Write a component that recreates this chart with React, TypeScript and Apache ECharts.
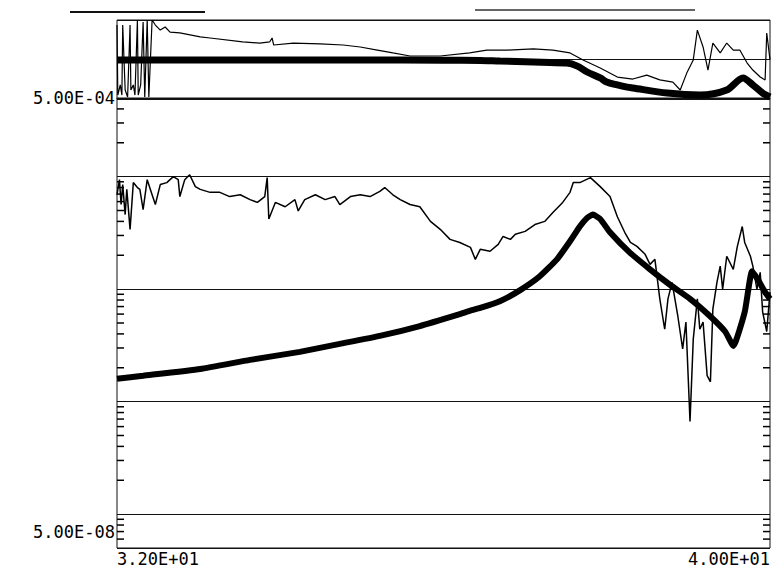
import React, { useEffect, useRef } from "react";
import * as echarts from "echarts";

// x: frequency (Hz), y: amplitude (log) — lower panel
const xTickLabels = ["3.20E+01", "4.00E+01"];
const yTickLabels = ["5.00E-08", "5.00E-04"];

const lowerModel: [number, number][] = [
  [32.0, 1.6e-6], [32.32, 1.7e-6], [33.02, 1.95e-6], [33.63, 2.35e-6], [34.24, 2.77e-6],
  [34.73, 3.26e-6], [35.22, 3.84e-6], [35.71, 4.7e-6], [36.2, 6.0e-6], [36.32, 6.4e-6],
  [36.45, 6.8e-6], [36.69, 7.8e-6], [36.94, 9.8e-6], [37.18, 1.3e-5], [37.39, 1.84e-5],
  [37.55, 2.66e-5], [37.67, 3.6e-5], [37.76, 4.3e-5], [37.83, 4.6e-5], [37.92, 4.2e-5],
  [38.04, 3.2e-5], [38.28, 2.12e-5], [38.53, 1.5e-5], [38.77, 1.1e-5], [39.02, 8.2e-6],
  [39.26, 5.8e-6], [39.45, 4.2e-6], [39.55, 3.13e-6], [39.69, 6.25e-6], [39.78, 1.44e-5],
  [39.85, 1.22e-5], [39.94, 9.4e-6], [40.0, 8.2e-6],
];

const lowerMeasured: [number, number][] = [
  [32.0, 6.9e-5], [32.03, 9.4e-5], [32.05, 5.65e-5], [32.07, 8.5e-5], [32.1, 4.6e-5],
  [32.12, 7.7e-5], [32.16, 3.4e-5], [32.2, 8.85e-5], [32.25, 8.0e-5], [32.28, 7.7e-5],
  [32.32, 5.1e-5], [32.37, 9.4e-5], [32.43, 6.9e-5], [32.47, 5.65e-5], [32.53, 8.5e-5],
  [32.61, 8.85e-5], [32.69, 1.0e-4], [32.75, 9.4e-5], [32.77, 6.65e-5], [32.83, 9.4e-5],
  [32.89, 1.04e-4], [32.96, 8.15e-5], [33.02, 7.7e-5], [33.14, 7.25e-5], [33.26, 7.25e-5],
  [33.38, 6.65e-5], [33.51, 6.9e-5], [33.63, 6.25e-5], [33.72, 5.9e-5], [33.81, 6.65e-5],
  [33.84, 9.8e-5], [33.86, 4.2e-5], [33.94, 5.9e-5], [34.06, 5.4e-5], [34.18, 6.25e-5],
  [34.22, 4.95e-5], [34.3, 6.25e-5], [34.43, 6.9e-5], [34.55, 6.25e-5], [34.67, 6.65e-5],
  [34.73, 5.65e-5], [34.86, 6.65e-5], [34.98, 6.9e-5], [35.1, 6.65e-5], [35.22, 7.4e-5],
  [35.28, 8.0e-5], [35.38, 6.9e-5], [35.47, 6.25e-5], [35.59, 5.65e-5], [35.71, 5.4e-5],
  [35.84, 4.0e-5], [35.96, 3.4e-5], [36.08, 2.77e-5], [36.2, 2.6e-5], [36.33, 2.35e-5],
  [36.39, 1.84e-5], [36.45, 2.26e-5], [36.57, 2.17e-5], [36.67, 2.5e-5], [36.73, 2.94e-5],
  [36.82, 2.77e-5], [36.88, 3.07e-5], [37.0, 3.26e-5], [37.12, 3.75e-5], [37.24, 4.0e-5],
  [37.34, 4.8e-5], [37.46, 5.9e-5], [37.55, 7.25e-5], [37.59, 8.85e-5], [37.67, 8.85e-5],
  [37.8, 9.8e-5], [37.92, 8.15e-5], [38.04, 6.65e-5], [38.13, 4.4e-5], [38.22, 3.2e-5],
  [38.29, 2.6e-5], [38.37, 2.4e-5], [38.47, 2.04e-5], [38.53, 1.66e-5], [38.59, 1.84e-5],
  [38.65, 8.2e-6], [38.71, 4.4e-6], [38.75, 8.2e-6], [38.8, 1.15e-5], [38.87, 5.8e-6],
  [38.93, 2.94e-6], [38.97, 5.1e-6], [39.02, 6.65e-7], [39.06, 3.6e-6], [39.11, 8.2e-6],
  [39.14, 4.4e-6], [39.18, 5.1e-6], [39.23, 1.7e-6], [39.27, 1.5e-6], [39.3, 6.65e-6],
  [39.35, 1.15e-5], [39.39, 1.6e-5], [39.42, 1.0e-5], [39.47, 1.96e-5], [39.55, 1.5e-5],
  [39.6, 2.4e-5], [39.66, 3.6e-5], [39.69, 2.6e-5], [39.76, 1.96e-5], [39.79, 1.6e-5],
  [39.84, 1.0e-5], [39.88, 1.41e-5], [39.91, 6.25e-6], [39.96, 4.2e-6], [40.0, 9.4e-6],
];

// upper panel: phase (degrees)
const upperModel: [number, number][] = [
  [32.0, -2], [33.5, -2], [35.0, -2], [36.0, -3], [36.45, -4], [36.69, -7], [37.1, -11],
  [37.3, -14], [37.51, -16], [37.64, -30], [37.76, -57], [37.92, -84], [38.0, -103],
  [38.13, -116], [38.25, -126], [38.32, -130], [38.74, -153], [39.14, -162], [39.47, -139],
  [39.67, -84], [39.79, -116], [39.91, -153], [40.0, -171],
];

const upperMeasured: [number, number][] = [
  [32.0, 157], [32.01, -162], [32.04, -116], [32.06, -162], [32.07, 157], [32.1, -139],
  [32.13, -171], [32.16, 157], [32.17, -139], [32.2, -116], [32.22, -162], [32.25, 180],
  [32.26, -162], [32.29, -116], [32.32, 171], [32.34, -171], [32.37, 180], [32.39, -171],
  [32.43, 180], [32.47, 157], [32.53, 134], [32.59, 148], [32.65, 125], [32.77, 121],
  [33.02, 103], [33.14, 98], [33.54, 80], [33.75, 75], [33.87, 80], [33.9, 98], [33.92, 66],
  [34.16, 75], [34.49, 71], [34.77, 66], [34.98, 57], [35.19, 43], [35.38, 30], [35.59, 16],
  [35.96, 16], [36.32, 30], [36.53, 43], [36.78, 43], [37.1, 48], [37.34, 43], [37.55, 30],
  [37.71, -2], [37.92, -39], [38.13, -80], [38.32, -89], [38.49, -71], [38.65, -93],
  [38.81, -103], [38.9, -139], [38.98, -62], [39.06, -2], [39.11, 134], [39.18, 57],
  [39.24, -48], [39.3, 75], [39.39, 30], [39.47, 75], [39.55, 43], [39.63, 43], [39.72, -16],
  [39.79, -48], [39.88, -80], [39.94, -93], [39.96, 121], [40.0, -2],
];

const X_MIN = 32;
const X_MAX = 40;
const Y_MIN = 5e-8;
const Y_MAX = 5e-4;

function minorTickValues(): number[] {
  const out: number[] = [];
  for (let e = -8; e <= -4; e++) {
    for (let m = 2; m <= 9; m++) {
      const v = m * Math.pow(10, e);
      if (v > Y_MIN * 1.001 && v < Y_MAX * 0.999) out.push(v);
    }
  }
  return out;
}

const FONT = "DejaVu Sans Mono";
const FS = 17;

export default function App() {
  const ref = useRef<HTMLDivElement>(null);
  useEffect(() => {
    if (!ref.current) return;
    const chart = echarts.init(ref.current, null, { renderer: "svg" });
    const near = (a: number, b: number) => Math.abs(Math.log10(a) - Math.log10(b)) < 0.01;
    const option: any = {
      animation: false,
      backgroundColor: "#fff",
      grid: [
        { left: 117, right: 3, top: 20, height: 79, show: true, borderColor: "#111", borderWidth: 1, backgroundColor: "transparent" },
        { left: 117, right: 3, top: 98, height: 450, show: true, borderColor: "#111", borderWidth: 1, backgroundColor: "transparent" },
      ],
      xAxis: [
        {
          gridIndex: 0, type: "value", min: X_MIN, max: X_MAX, interval: 8,
          axisLine: { show: false }, axisTick: { show: false }, axisLabel: { show: false }, splitLine: { show: false },
        },
        {
          gridIndex: 1, type: "value", min: X_MIN, max: X_MAX, interval: 8,
          axisLine: { show: false }, axisTick: { show: false }, splitLine: { show: false },
          axisLabel: {
            show: true, margin: 2, color: "#000", fontFamily: FONT, fontSize: FS,
            alignMinLabel: "left", alignMaxLabel: "right",
            formatter: (v: number) => (Math.abs(v - X_MIN) < 1e-6 ? xTickLabels[0] : Math.abs(v - X_MAX) < 1e-6 ? xTickLabels[1] : ""),
          },
        },
      ],
      yAxis: [
        {
          gridIndex: 0, type: "value", min: -180, max: 180, interval: 180,
          axisLine: { show: false }, axisTick: { show: false }, axisLabel: { show: false },
          splitLine: { show: true, lineStyle: { color: "#111", width: 1 } },
        },
        {
          gridIndex: 1, type: "log", logBase: 10, min: Y_MIN, max: Y_MAX,
          axisLine: { show: false }, axisTick: { show: false },
          splitLine: { show: true, lineStyle: { color: "#111", width: 1 } },
          axisLabel: {
            show: true, margin: 2, color: "#000", fontFamily: FONT, fontSize: FS,
            showMinLabel: true, showMaxLabel: true,
            formatter: (v: number) => (near(v, Y_MIN) ? "{lo|" + yTickLabels[0] + "}" : near(v, Y_MAX) ? yTickLabels[1] : ""),
            rich: { lo: { fontFamily: FONT, fontSize: FS, color: "#000", padding: [0, 0, 32, 0] } },
          },
        },
      ],
      graphic: [
        { type: "line", shape: { x1: 70, y1: 12, x2: 205, y2: 12 }, style: { stroke: "#111", lineWidth: 2 } },
        { type: "line", shape: { x1: 475, y1: 10, x2: 695, y2: 10 }, style: { stroke: "#333", lineWidth: 1.5 } },
      ],
      series: [
        {
          type: "line", xAxisIndex: 0, yAxisIndex: 0, data: upperMeasured, showSymbol: false,
          lineStyle: { color: "#000", width: 1.2 }, z: 2,
        },
        {
          type: "line", xAxisIndex: 0, yAxisIndex: 0, data: upperModel, showSymbol: false, smooth: 0.3,
          lineStyle: { color: "#000", width: 7 }, z: 3,
        },
        {
          type: "line", xAxisIndex: 1, yAxisIndex: 1, data: lowerMeasured, showSymbol: false,
          lineStyle: { color: "#000", width: 1.5 }, z: 2,
        },
        {
          type: "line", xAxisIndex: 1, yAxisIndex: 1, data: lowerModel, showSymbol: false, smooth: 0.15,
          lineStyle: { color: "#000", width: 6 }, z: 3,
        },
        {
          type: "custom", xAxisIndex: 1, yAxisIndex: 1, z: 4, silent: true, clip: false,
          data: minorTickValues().map((v) => [X_MIN, v]),
          renderItem: (_params: any, api: any) => {
            const v = api.value(1);
            const l = api.coord([X_MIN, v]);
            const r = api.coord([X_MAX, v]);
            return {
              type: "group",
              children: [
                { type: "line", shape: { x1: l[0], y1: l[1], x2: l[0] + 7, y2: l[1] }, style: { stroke: "#000", lineWidth: 1.5 } },
                { type: "line", shape: { x1: r[0] - 7, y1: r[1], x2: r[0], y2: r[1] }, style: { stroke: "#000", lineWidth: 1.5 } },
              ],
            };
          },
        },
      ],
    };
    chart.setOption(option);
    return () => chart.dispose();
  }, []);
  return <div ref={ref} style={{ position: "fixed", left: 0, top: 0, width: 773, height: 568 }} />;
}
